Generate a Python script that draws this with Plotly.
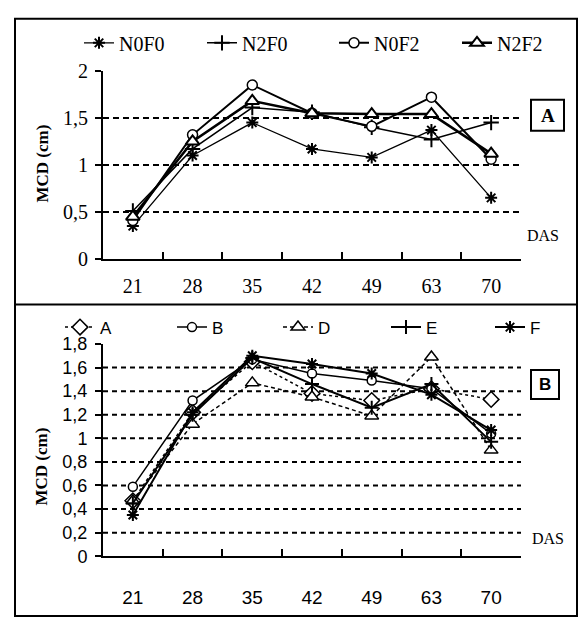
import plotly.graph_objects as go

# ---------------- data ----------------
days = ["21", "28", "35", "42", "49", "63", "70"]

# Panel A
N0F0 = [0.35, 1.10, 1.45, 1.17, 1.08, 1.37, 0.65]
N2F0 = [0.51, 1.17, 1.61, 1.56, 1.40, 1.27, 1.45]
N0F2 = [0.41, 1.32, 1.85, 1.55, 1.41, 1.72, 1.06]
N2F2 = [0.45, 1.25, 1.68, 1.55, 1.54, 1.54, 1.12]

# Panel B
A_ = [0.47, 1.22, 1.65, 1.38, 1.32, 1.42, 1.33]
B_ = [0.59, 1.32, 1.67, 1.55, 1.49, 1.42, 1.04]
D_ = [0.47, 1.12, 1.47, 1.35, 1.19, 1.69, 0.90]
E_ = [0.45, 1.20, 1.68, 1.46, 1.26, 1.46, 0.97]
F_ = [0.35, 1.22, 1.70, 1.63, 1.55, 1.37, 1.07]

ticks_a = [0, 0.5, 1, 1.5, 2]
grid_a = [0.5, 1, 1.5]
ticks_b = [0, 0.2, 0.4, 0.6, 0.8, 1, 1.2, 1.4, 1.6, 1.8]
grid_b = [0.2, 0.4, 0.6, 0.8, 1, 1.2, 1.4, 1.6]

W, H = 579, 630
def px(x):
    return x / W
def py(y):
    return 1 - y / H

SERIF = "Liberation Serif"
SANS = "Liberation Sans"

fig = go.Figure()
legends = {}

def add(name, y, sym, size, lw, dash, xa, ya, leg, lx, ly, font, mlw=1.5):
    fig.add_trace(go.Scatter(
        x=days, y=y, name=name, mode="lines+markers",
        xaxis=xa, yaxis=ya, legend=leg,
        line=dict(color="black", width=lw, dash=dash),
        marker=dict(symbol=sym, size=size, color="white" if "open" not in sym else "black",
                    line=dict(color="black", width=mlw)),
        hoverinfo="skip"))
    legends[leg] = dict(x=px(lx), y=py(ly), xanchor="left", yanchor="middle",
                        orientation="h", bgcolor="rgba(0,0,0,0)", font=font,
                        itemclick=False, itemdoubleclick=False)

fA = dict(family=SERIF, size=20, color="black")
fB = dict(family=SANS, size=17, color="black")

add("N0F0", N0F0, "asterisk-open", 10, 1.3, "solid", "x", "y", "legend", 79, 33, fA, 2)
add("N2F0", N2F0, "cross-thin-open", 11, 1.5, "solid", "x", "y", "legend2", 202, 33, fA, 2)
add("N0F2", N0F2, "circle", 10, 2.0, "solid", "x", "y", "legend3", 334, 33, fA)
add("N2F2", N2F2, "triangle-up", 12, 2.5, "solid", "x", "y", "legend4", 457, 33, fA, 2)

add("A", A_, "diamond", 12, 1.5, "3px,3px", "x2", "y2", "legend5", 60, 328, fB)
add("B", B_, "circle", 9, 1.5, "solid", "x2", "y2", "legend6", 172, 328, fB)
add("D", D_, "triangle-up", 12, 1.5, "4px,3px", "x2", "y2", "legend7", 278, 328, fB)
add("E", E_, "cross-thin-open", 10, 2.0, "solid", "x2", "y2", "legend8", 386, 328, fB, 2)
add("F", F_, "asterisk-open", 10, 2.0, "solid", "x2", "y2", "legend9", 490, 328, fB, 2)

xdom = [px(103), px(521)]
xcommon = dict(type="category", range=[-0.5, 6.5], domain=xdom, showline=True,
               linecolor="black", linewidth=2, ticks="inside", ticklen=7,
               tickwidth=2, tickcolor="black", tickson="boundaries",
               showgrid=False, zeroline=False, fixedrange=True)
ycommon = dict(showline=True, linecolor="black", linewidth=2, ticks="outside",
               ticklen=6, tickwidth=2, tickcolor="black", showgrid=False,
               zeroline=False, fixedrange=True)

fig.update_layout(
    width=W, height=H, margin=dict(l=0, r=0, t=0, b=0),
    paper_bgcolor="white", plot_bgcolor="rgba(0,0,0,0)",
    separators=", ",
    xaxis=dict(**xcommon, anchor="y", ticklabelstandoff=8,
               tickfont=dict(family=SERIF, size=20, color="black")),
    yaxis=dict(**ycommon, anchor="x", domain=[py(257), py(62)], range=[0, 2],
               tickvals=ticks_a, ticklabelstandoff=3,
               tickfont=dict(family=SERIF, size=20, color="black")),
    xaxis2=dict(**xcommon, anchor="y2", ticklabelstandoff=23,
                tickfont=dict(family=SANS, size=19, color="black")),
    yaxis2=dict(**ycommon, anchor="x2", domain=[py(565), py(345)], range=[0, 1.8],
                tickvals=ticks_b, ticklabelstandoff=4,
                tickfont=dict(family=SANS, size=18, color="black")),
    showlegend=True,
    **legends,
)

shapes = []
for g in grid_a:
    shapes.append(dict(type="line", xref="x domain", yref="y", x0=0, x1=1, y0=g, y1=g,
                       line=dict(color="black", width=2, dash="6px,4px"), layer="below"))
for g in grid_b:
    shapes.append(dict(type="line", xref="x2 domain", yref="y2", x0=0, x1=1, y0=g, y1=g,
                       line=dict(color="black", width=2, dash="5px,4px"), layer="below"))
# outer frames
shapes.append(dict(type="rect", xref="paper", yref="paper", x0=px(15), x1=px(577),
                   y0=py(627), y1=py(8), line=dict(color="black", width=2)))
shapes.append(dict(type="line", xref="paper", yref="paper", x0=px(15), x1=px(577),
                   y0=py(304), y1=py(304), line=dict(color="black", width=2)))
# label boxes
shapes.append(dict(type="rect", xref="paper", yref="paper", x0=px(531), x1=px(564),
                   y0=py(124), y1=py(92), line=dict(color="black", width=2)))
shapes.append(dict(type="rect", xref="paper", yref="paper", x0=px(531), x1=px(559),
                   y0=py(402), y1=py(372), line=dict(color="black", width=2)))
fig.update_layout(shapes=shapes)

ann = [
    dict(text="<b>A</b>", x=px(547.5), y=py(108), font=dict(family=SERIF, size=19)),
    dict(text="<b>B</b>", x=px(545), y=py(387), font=dict(family=SANS, size=17)),
    dict(text="DAS", x=px(543), y=py(233), font=dict(family=SERIF, size=16)),
    dict(text="DAS", x=px(548), y=py(547), font=dict(family=SERIF, size=16)),
    dict(text="<b>MCD (cm)</b>", x=px(42), y=py(158), textangle=-90,
         font=dict(family=SERIF, size=17)),
    dict(text="<b>MCD (cm)</b>", x=px(42), y=py(472), textangle=-90,
         font=dict(family=SERIF, size=17)),
]
for a in ann:
    a.update(xref="paper", yref="paper", showarrow=False, xanchor="center",
             yanchor="middle")
    a["font"]["color"] = "black"
fig.update_layout(annotations=ann)

fig.write_html("out.html")
